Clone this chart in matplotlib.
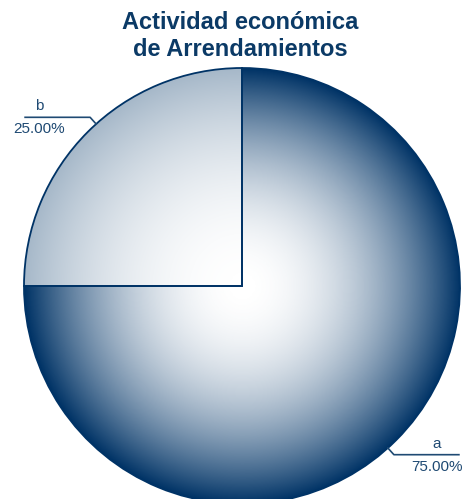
import numpy as np
import matplotlib
matplotlib.use("Agg")
import matplotlib.pyplot as plt
from matplotlib.colors import LinearSegmentedColormap

# data
labels = ["a", "b"]
values = [75, 25]
pct_text = ["75.00%", "25.00%"]
title = "Actividad económica\nde Arrendamientos"

plt.rcParams["font.family"] = ["Liberation Sans", "DejaVu Sans"]

W, H = 465, 499
fig = plt.figure(figsize=(W / 100, H / 100), dpi=100)
ax = fig.add_axes([0, 0, 1, 1])

navy = "#003366"
cx, cy, R = 242, H - 286, 218

wedges, _ = ax.pie(values, startangle=180, counterclock=True, center=(cx, cy),
                   radius=R, frame=True,
                   wedgeprops=dict(facecolor="none", edgecolor=navy, linewidth=1.3))
ax.set_xlim(0, W)
ax.set_ylim(0, H)
ax.set_aspect("equal")
ax.axis("off")

# radial gradient fill for each slice (white centre -> colour at rim)
n = 500
xs = np.linspace(cx - R, cx + R, n)
ys = np.linspace(cy - R, cy + R, n)
X, Y = np.meshgrid(xs, ys)
dist = np.clip(np.hypot(X - cx, Y - cy) / R, 0, 1) ** 2
edge_cols = [navy, "#a6b8c9"]
for w, ec in zip(wedges, edge_cols):
    cmap = LinearSegmentedColormap.from_list("g", ["#ffffff", ec])
    im = ax.imshow(dist, cmap=cmap, vmin=0, vmax=1, origin="lower",
                   extent=(cx - R, cx + R, cy - R, cy + R), zorder=0.5,
                   interpolation="bilinear")
    im.set_clip_path(w)
    w.set_zorder(1)

# connector lines and labels
txt_col = "#1f4a73"
for w, lab, pt in zip(wedges, labels, pct_text):
    mid = np.deg2rad((w.theta1 + w.theta2) / 2 - 3)
    px, py = cx + R * np.cos(mid), cy + R * np.sin(mid)
    ex, ey = cx + (R + 9) * np.cos(mid), cy + (R + 9) * np.sin(mid)
    side = 1 if np.cos(mid) > 0 else -1
    hx = ex + side * 65
    ax.plot([px, ex, hx], [py, ey, ey], color=txt_col, lw=1.2, zorder=2,
            clip_on=False)
    tx = hx - 22 if side > 0 else hx + 14
    ax.text(tx, ey + 4, lab, ha="center", va="bottom", fontsize=11, color=txt_col)
    ax.text(tx, ey - 5, pt, ha="center", va="top", fontsize=11, color=txt_col)

fig.text(0.517, 1 - 36 / H, title, ha="center", va="center", fontsize=17,
         fontweight="bold", color="#0b3a66", linespacing=1.18)

fig.savefig("out.png", dpi=100, facecolor="white")
